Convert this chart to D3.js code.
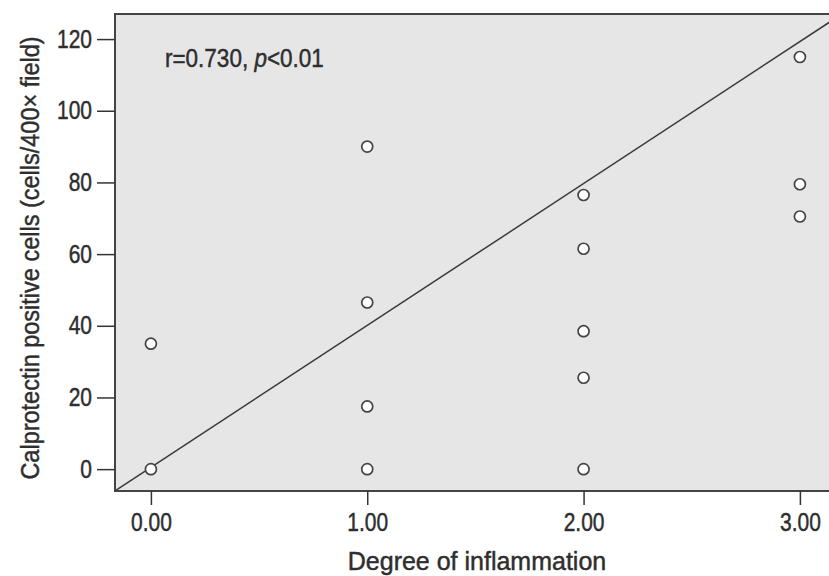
<!DOCTYPE html>
<html lang="en">
<head>
    <meta charset="utf-8">
    <title>Calprotectin vs degree of inflammation</title>
    <script type="text/javascript" src="https://d3js.org/d3.v7.min.js"></script>
    <style type="text/css">
        body { margin: 0; background: #fff; }
        text { font-family: "Liberation Sans", Arial, sans-serif; fill: #2e2e2e; stroke: #2e2e2e; stroke-width: 0.45px; }
    </style>
</head>
<body>
<script type="text/javascript">

    // degree of inflammation for each sample
    var degree = [0, 0, 1, 1, 1, 1, 2, 2, 2, 2, 2, 3, 3, 3];
    // calprotectin positive cells per 400x field
    var cells = [0, 35, 90, 46.5, 17.5, 0, 76.5, 61.5, 38.5, 25.5, 0, 115, 79.5, 70.5];

    var xTicks = [0, 1, 2, 3];
    var yTicks = [0, 20, 40, 60, 80, 100, 120];

    // fitted line as drawn in the figure
    var fitIntercept = 0.5;
    var fitSlope = 39.6;

    var width = 829, height = 576;
    var plotLeft = 115, plotTop = 14, plotBottom = 491;
    var squeeze = 0.84; // the figure uses a condensed face for numbers

    var svg = d3.select("body").append("svg")
        .attr("width", width)
        .attr("height", height);

    var x = d3.scaleLinear().domain([-0.166, 3.2]).range([plotLeft, plotLeft + 3.366 * 216.33]);
    var y = d3.scaleLinear().domain([-6.1, 127]).range([plotBottom, plotTop]);
    var plotRight = x.range()[1];

    svg.append("clipPath").attr("id", "plotClip")
        .append("rect")
        .attr("x", plotLeft).attr("y", plotTop)
        .attr("width", plotRight - plotLeft).attr("height", plotBottom - plotTop);

    // plot background
    svg.append("rect")
        .attr("x", plotLeft).attr("y", plotTop)
        .attr("width", plotRight - plotLeft)
        .attr("height", plotBottom - plotTop)
        .attr("fill", "#e6e6e7");

    // fitted line
    var xd = x.domain();
    svg.append("line")
        .attr("clip-path", "url(#plotClip)")
        .attr("x1", x(xd[0])).attr("y1", y(fitIntercept + fitSlope * xd[0]))
        .attr("x2", x(xd[1])).attr("y2", y(fitIntercept + fitSlope * xd[1]))
        .attr("stroke", "#3a3a3a")
        .attr("stroke-width", 1.5);

    // points
    svg.selectAll(".pt")
        .data(degree)
        .enter()
        .append("circle")
        .attr("class", "pt")
        .attr("cx", function(d) { return x(d); })
        .attr("cy", function(d, i) { return y(cells[i]); })
        .attr("r", 5.5)
        .attr("fill", "#fff")
        .attr("stroke", "#444")
        .attr("stroke-width", 1.7);

    // frame: left, top, bottom
    svg.append("path")
        .attr("d", "M" + plotRight + "," + plotTop + "H" + plotLeft + "V" + plotBottom + "H" + plotRight)
        .attr("fill", "none")
        .attr("stroke", "#444")
        .attr("stroke-width", 2);

    var yAxis = svg.append("g")
        .attr("transform", "translate(" + plotLeft + ",0)")
        .call(d3.axisLeft(y).tickValues(yTicks).tickSize(18).tickPadding(5).tickFormat(d3.format("d")));
    yAxis.select(".domain").remove();
    yAxis.selectAll("line").attr("stroke", "#333").attr("stroke-width", 1.5);
    yAxis.selectAll("text")
        .attr("font-size", 25).attr("fill", "#2e2e2e")
        .attr("font-family", "'Liberation Sans', Arial, sans-serif")
        .attr("x", function() { return +this.getAttribute("x") / squeeze; })
        .attr("transform", "scale(" + squeeze + ",1)");

    var xAxis = svg.append("g")
        .attr("transform", "translate(0," + plotBottom + ")")
        .call(d3.axisBottom(x).tickValues(xTicks).tickSize(14).tickPadding(8).tickFormat(d3.format(".2f")));
    xAxis.select(".domain").remove();
    xAxis.selectAll("line").attr("stroke", "#333").attr("stroke-width", 1.5);
    xAxis.selectAll("text")
        .attr("font-size", 25).attr("fill", "#2e2e2e")
        .attr("font-family", "'Liberation Sans', Arial, sans-serif")
        .attr("transform", "scale(" + squeeze + ",1)");

    // axis titles
    svg.append("text")
        .attr("x", 477).attr("y", 570)
        .attr("text-anchor", "middle")
        .attr("font-size", 25)
        .text("Degree of inflammation");

    svg.append("text")
        .attr("transform", "translate(39,258) rotate(-90) scale(0.94,1)")
        .attr("text-anchor", "middle")
        .attr("font-size", 25)
        .text("Calprotectin positive cells (cells/400\u00d7 field)");

    // correlation note
    var note = svg.append("text")
        .attr("transform", "translate(165,67) scale(0.9,1)")
        .attr("font-size", 25);
    note.append("tspan").text("r=0.730, ");
    note.append("tspan").attr("font-style", "italic").text("p");
    note.append("tspan").text("<0.01");

</script>
</body>
</html>
